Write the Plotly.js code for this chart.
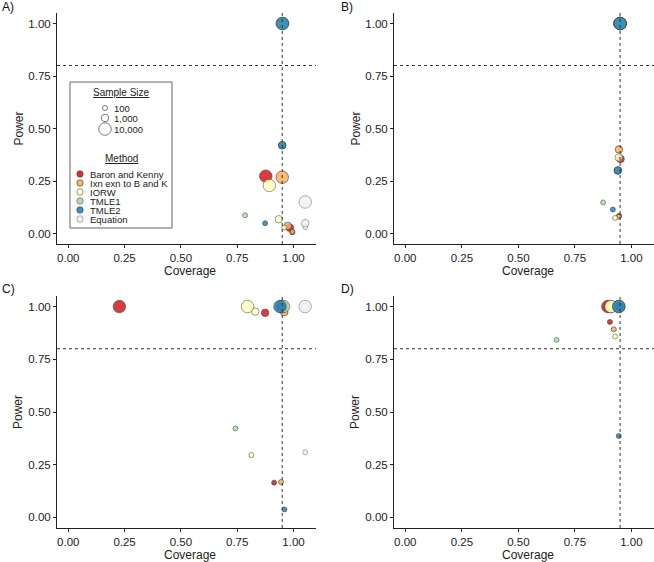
<!DOCTYPE html>
<html>
<head>
<meta charset="utf-8">
<script src="https://cdn.plot.ly/plotly-3.0.1.min.js"></script>
<style>html,body{margin:0;padding:0;background:#fff;}#chart{width:654px;height:562px;}</style>
</head>
<body>
<div id="chart"></div>
<script>
// ---------------- DATA ----------------
var methods = ["Baron and Kenny", "Ixn exn to B and K", "IORW", "TMLE1", "TMLE2", "Equation"];
var sampleSizes = [100, 1000, 10000];
var sampleSizeLabels = ["100", "1,000", "10,000"];
var panelLabels = ["A)", "B)", "C)", "D)"];
var tickVals = [0, 0.25, 0.5, 0.75, 1.0];
var powerTarget = 0.8;
var coverageTarget = 0.95;

// Each panel: method, sample size, coverage, power
var panelA_method   = ["Baron and Kenny","Baron and Kenny","Baron and Kenny","Ixn exn to B and K","Ixn exn to B and K","Ixn exn to B and K","IORW","IORW","IORW","TMLE1","TMLE1","TMLE1","TMLE2","TMLE2","TMLE2","Equation","Equation","Equation"];
var panelA_n        = [100,1000,10000,100,1000,10000,100,1000,10000,100,1000,10000,100,1000,10000,100,1000,10000];
var panelA_coverage = [0.995,0.984,0.877, 0.995,0.975,0.950, 0.959,0.935,0.893, 0.785,0.950,0.950, 0.874,0.950,0.952, 1.052,1.052,1.052];
var panelA_power    = [0.006,0.027,0.273, 0.008,0.036,0.268, 0.028,0.068,0.229, 0.087,0.420,1.000, 0.049,0.420,1.000, 0.031,0.049,0.150];

var panelB_method   = ["Baron and Kenny","Baron and Kenny","Baron and Kenny","Ixn exn to B and K","Ixn exn to B and K","Ixn exn to B and K","IORW","IORW","IORW","TMLE1","TMLE1","TMLE1","TMLE2","TMLE2","TMLE2"];
var panelB_n        = [100,1000,10000,100,1000,10000,100,1000,10000,100,1000,10000,100,1000,10000];
var panelB_coverage = [0.946,0.952,0.950, 0.944,0.945,0.950, 0.928,0.944,0.950, 0.875,0.940,0.950, 0.918,0.940,0.950];
var panelB_power    = [0.084,0.355,1.000, 0.080,0.400,1.000, 0.074,0.362,1.000, 0.148,0.300,1.000, 0.114,0.300,1.000];

var panelC_method   = ["Baron and Kenny","Baron and Kenny","Baron and Kenny","Ixn exn to B and K","Ixn exn to B and K","Ixn exn to B and K","IORW","IORW","IORW","TMLE1","TMLE1","TMLE1","TMLE2","TMLE2","TMLE2","Equation","Equation","Equation"];
var panelC_n        = [100,1000,10000,100,1000,10000,100,1000,10000,100,1000,10000,100,1000,10000,100,1000,10000];
var panelC_coverage = [0.914,0.874,0.227, 0.945,0.959,0.950, 0.813,0.830,0.796, 0.742,0.950,0.956, 0.960,0.945,0.940, 1.052,1.052,1.052];
var panelC_power    = [0.165,0.970,1.000, 0.168,0.973,1.000, 0.296,0.976,1.000, 0.422,1.000,1.000, 0.038,1.000,1.000, 0.309,1.000,1.000];

var panelD_method   = ["Baron and Kenny","Baron and Kenny","Baron and Kenny","Ixn exn to B and K","Ixn exn to B and K","Ixn exn to B and K","IORW","IORW","IORW","TMLE1","TMLE1","TMLE1","TMLE2","TMLE2","TMLE2"];
var panelD_n        = [100,1000,10000,100,1000,10000,100,1000,10000,100,1000,10000,100,1000,10000];
var panelD_coverage = [0.905,0.900,0.896, 0.922,0.910,0.908, 0.928,0.910,0.910, 0.669,0.945,0.945, 0.944,0.945,0.944];
var panelD_power    = [0.927,1.000,1.000, 0.892,1.000,1.000, 0.858,1.000,1.000, 0.842,1.000,1.000, 0.386,1.000,1.000];

// ---------------- STYLE ----------------
var methodFill = {"Baron and Kenny":"#D7191C","Ixn exn to B and K":"#FDAE61","IORW":"#FFFFBF","TMLE1":"#ABDDA4","TMLE2":"#2B83BA","Equation":"#F2F2F2"};
var methodLine = {"Baron and Kenny":"#333","Ixn exn to B and K":"#333","IORW":"#555","TMLE1":"#555","TMLE2":"#333","Equation":"#777"};
var sizePx = {100:5, 1000:7.5, 10000:12.5};
var FONT = "Liberation Sans, Arial, sans-serif";
var W = 654, H = 562;
function px(x){return x/W;}
function py(y){return 1 - y/H;}

var panels = [
  {m:panelA_method,n:panelA_n,x:panelA_coverage,y:panelA_power, l:57,  r:316, t:13,  b:244},
  {m:panelB_method,n:panelB_n,x:panelB_coverage,y:panelB_power, l:394, r:654, t:13,  b:244},
  {m:panelC_method,n:panelC_n,x:panelC_coverage,y:panelC_power, l:57,  r:316, t:296, b:528},
  {m:panelD_method,n:panelD_n,x:panelD_coverage,y:panelD_power, l:394, r:654, t:296, b:528}
];

var traces = [];
var layout = {
  width: W, height: H,
  margin: {l:0, r:0, t:0, b:0},
  paper_bgcolor: "#fff", plot_bgcolor: "rgba(0,0,0,0)",
  showlegend: false,
  font: {family: FONT, color: "#222"},
  shapes: [], annotations: []
};

panels.forEach(function(p, i){
  var k = i + 1;
  var xa = "xaxis" + (k === 1 ? "" : k), ya = "yaxis" + (k === 1 ? "" : k);
  var xr = "x" + (k === 1 ? "" : k), yr = "y" + (k === 1 ? "" : k);
  var common = {
    showgrid:false, zeroline:false, showline:true, linecolor:"#222", linewidth:1,
    ticks:"outside", ticklen:3, tickwidth:1, tickcolor:"#222",
    tickvals:tickVals, tickformat:".2f",
    tickfont:{family:FONT, size:11.5, color:"#222"}, fixedrange:true
  };
  layout[xa] = Object.assign({}, common, {domain:[px(p.l), px(p.r)], range:[-0.05, 1.10], anchor:yr});
  layout[ya] = Object.assign({}, common, {domain:[py(p.b), py(p.t)], range:[-0.05, 1.05], anchor:xr});

  methods.forEach(function(meth){
    var xs=[], ys=[], ss=[];
    for (var j=0;j<p.m.length;j++){
      if (p.m[j]===meth){ xs.push(p.x[j]); ys.push(p.y[j]); ss.push(sizePx[p.n[j]]); }
    }
    if (!xs.length) return;
    traces.push({
      type:"scatter", mode:"markers", x:xs, y:ys, xaxis:xr, yaxis:yr, name:meth,
      marker:{size:ss, color:methodFill[meth], opacity:0.85, line:{color:methodLine[meth], width:0.7}},
      hoverinfo:"skip"
    });
  });

  // reference lines
  layout.shapes.push({type:"line", xref:xr, yref:yr, x0:-0.05, x1:1.10, y0:powerTarget, y1:powerTarget,
    line:{color:"#333", width:1, dash:"3px,3px"}, layer:"above"});
  layout.shapes.push({type:"line", xref:xr, yref:yr, x0:coverageTarget, x1:coverageTarget, y0:-0.05, y1:1.05,
    line:{color:"#333", width:1, dash:"3px,3px"}, layer:"above"});

  // axis titles and panel labels
  var cx = (p.l + p.r) / 2 - 3;
  layout.annotations.push({text:"Coverage", xref:"paper", yref:"paper", x:px(cx+7), y:py(p.b+27), xanchor:"center", yanchor:"middle", showarrow:false, font:{family:FONT, size:12, color:"#222"}});
  layout.annotations.push({text:"Power", xref:"paper", yref:"paper", x:px(p.l-39), y:py((p.t+p.b)/2), xanchor:"center", yanchor:"middle", textangle:-90, showarrow:false, font:{family:FONT, size:12, color:"#222"}});
  var lx = (i % 2 === 0) ? 0 : 339;
  var ly = (i < 2) ? 7 : 289;
  layout.annotations.push({text:panelLabels[i], xref:"paper", yref:"paper", x:px(lx), y:py(ly), xanchor:"left", yanchor:"middle", showarrow:false, font:{family:FONT, size:12, color:"#111"}});
});

// ---------------- LEGEND (inside panel A) ----------------
layout.shapes.push({type:"rect", xref:"paper", yref:"paper", x0:px(70), x1:px(172), y0:py(228), y1:py(82),
  line:{color:"#666", width:1}, fillcolor:"#fff", layer:"above"});
var LF = {family:FONT, size:9.5, color:"#222"};
layout.annotations.push({text:"<u>Sample Size</u>", xref:"paper", yref:"paper", x:px(121), y:py(92), xanchor:"center", yanchor:"middle", showarrow:false, font:{family:FONT, size:10, color:"#222"}});
var sizeRows = [108, 118, 129];
sampleSizes.forEach(function(s, j){
  var r = sizePx[s] / 2;
  layout.shapes.push({type:"circle", xref:"paper", yref:"paper", xsizemode:"pixel", ysizemode:"pixel",
    xanchor:px(105), yanchor:py(sizeRows[j]), x0:-r, x1:r, y0:-r, y1:r,
    line:{color:"#555", width:0.8}, fillcolor:"#fff", layer:"above"});
  layout.annotations.push({text:sampleSizeLabels[j], xref:"paper", yref:"paper", x:px(112), y:py(sizeRows[j]), xanchor:"left", yanchor:"middle", showarrow:false, font:LF});
});
layout.annotations.push({text:"<u>Method</u>", xref:"paper", yref:"paper", x:px(121), y:py(159), xanchor:"center", yanchor:"middle", showarrow:false, font:{family:FONT, size:10, color:"#222"}});
var methodRows = [174, 183, 192, 201, 210, 219];
methods.forEach(function(meth, j){
  var r = 3.2;
  layout.shapes.push({type:"circle", xref:"paper", yref:"paper", xsizemode:"pixel", ysizemode:"pixel",
    xanchor:px(80), yanchor:py(methodRows[j]), x0:-r, x1:r, y0:-r, y1:r,
    line:{color:methodLine[meth], width:0.7}, fillcolor:methodFill[meth], opacity:0.9, layer:"above"});
  layout.annotations.push({text:meth, xref:"paper", yref:"paper", x:px(88), y:py(methodRows[j]), xanchor:"left", yanchor:"middle", showarrow:false, font:LF});
});

Plotly.newPlot("chart", traces, layout, {staticPlot:true, displayModeBar:false});
</script>
</body>
</html>
